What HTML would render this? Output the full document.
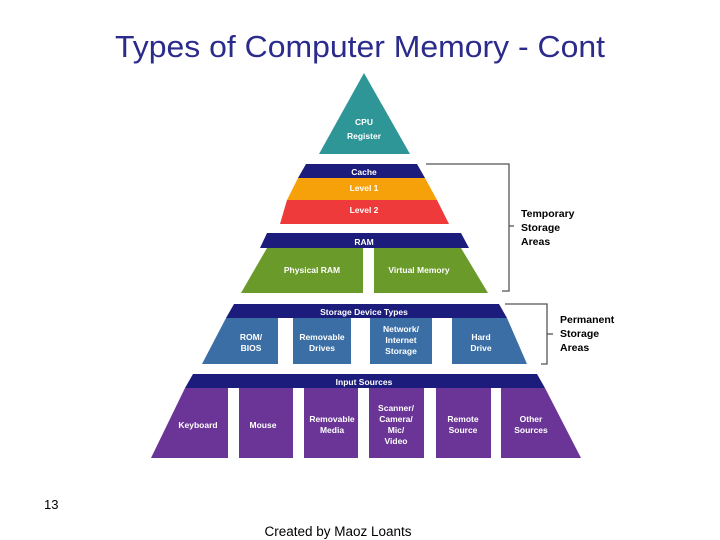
<!DOCTYPE html>
<html><head><style>
body{margin:0;width:720px;height:540px;background:#fff;overflow:hidden}
svg{display:block}
.t{font-family:"Liberation Sans",sans-serif;font-weight:bold;fill:#fff;font-size:8.5px;text-anchor:middle}
.k{font-family:"Liberation Sans",sans-serif;font-weight:bold;fill:#000;font-size:10.5px}
</style></head><body>
<svg width="720" height="540" viewBox="0 0 720 540">
<defs>
<clipPath id="c1"><polygon points="267,248 461,248 488,293 241,293"/></clipPath>
<clipPath id="c2"><polygon points="226,318 507,318 527,364 202,364"/></clipPath>
<clipPath id="c3"><polygon points="185,388 545,388 581,458 151,458"/></clipPath>
</defs>
<text x="360" y="57" font-family="Liberation Sans,sans-serif" font-size="31" fill="#2b2b8c" text-anchor="middle" textLength="490" lengthAdjust="spacingAndGlyphs">Types of Computer Memory - Cont</text>
<polygon points="364,73 410,154 319,154" fill="#2e9696"/>
<text class="t" x="364" y="125" font-size="10.5">CPU</text>
<text class="t" x="364" y="139" font-size="10.5">Register</text>
<polygon points="306,164 417,164 425,178 298,178" fill="#1c1c7c"/>
<text class="t" x="364" y="175" font-size="10.5">Cache</text>
<polygon points="298,178 425,178 437,200 287,200" fill="#f7a10a"/>
<text class="t" x="364" y="191">Level 1</text>
<polygon points="287,200 437,200 449,224 280,224" fill="#ee3a3a"/>
<text class="t" x="364" y="213">Level 2</text>
<polygon points="267,233 461,233 469,248 260,248" fill="#1c1c7c"/>
<text class="t" x="364" y="245" font-size="10.5">RAM</text>
<g clip-path="url(#c1)" fill="#6a9a2a"><rect x="230" y="248" width="133" height="45"/><rect x="374" y="248" width="120" height="45"/></g>
<text class="t" x="312" y="273">Physical RAM</text>
<text class="t" x="419" y="273">Virtual Memory</text>
<polygon points="234,304 499,304 507,318 226,318" fill="#1c1c7c"/>
<text class="t" x="364" y="315" font-size="10.5">Storage Device Types</text>
<g clip-path="url(#c2)" fill="#3a6ea5"><rect x="200" y="318" width="78" height="46"/><rect x="293" y="318" width="58" height="46"/><rect x="370" y="318" width="62" height="46"/><rect x="452" y="318" width="80" height="46"/></g>
<text class="t" x="251" y="340">ROM/</text><text class="t" x="251" y="351">BIOS</text>
<text class="t" x="322" y="340">Removable</text><text class="t" x="322" y="351">Drives</text>
<text class="t" x="401" y="332">Network/</text><text class="t" x="401" y="343">Internet</text><text class="t" x="401" y="354">Storage</text>
<text class="t" x="481" y="340">Hard</text><text class="t" x="481" y="351">Drive</text>
<polygon points="193,374 537,374 545,388 185,388" fill="#1c1c7c"/>
<text class="t" x="364" y="385" font-size="10.5">Input Sources</text>
<g clip-path="url(#c3)" fill="#6a3596"><rect x="150" y="388" width="78" height="70"/><rect x="239" y="388" width="54" height="70"/><rect x="304" y="388" width="54" height="70"/><rect x="369" y="388" width="55" height="70"/><rect x="436" y="388" width="55" height="70"/><rect x="501" y="388" width="82" height="70"/></g>
<text class="t" x="198" y="428">Keyboard</text>
<text class="t" x="263" y="428">Mouse</text>
<text class="t" x="332" y="422">Removable</text><text class="t" x="332" y="433">Media</text>
<text class="t" x="396" y="411">Scanner/</text><text class="t" x="396" y="422">Camera/</text><text class="t" x="396" y="433">Mic/</text><text class="t" x="396" y="444">Video</text>
<text class="t" x="463" y="422">Remote</text><text class="t" x="463" y="433">Source</text>
<text class="t" x="531" y="422">Other</text><text class="t" x="531" y="433">Sources</text>
<polyline points="426,164 509,164 509,291 502,291" fill="none" stroke="#555" stroke-width="1.3"/>
<line x1="509" y1="226" x2="514" y2="226" stroke="#555" stroke-width="1.3"/>
<text class="k" x="521" y="217">Temporary</text><text class="k" x="521" y="231">Storage</text><text class="k" x="521" y="245">Areas</text>
<polyline points="505,304 547,304 547,364 541,364" fill="none" stroke="#555" stroke-width="1.3"/>
<line x1="547" y1="334" x2="553" y2="334" stroke="#555" stroke-width="1.3"/>
<text class="k" x="560" y="323">Permanent</text><text class="k" x="560" y="337">Storage</text><text class="k" x="560" y="351">Areas</text>
<text x="44" y="509" font-family="Liberation Sans,sans-serif" font-size="13" fill="#000">13</text>
<text x="338" y="536" font-family="Liberation Sans,sans-serif" font-size="13.5" fill="#000" text-anchor="middle">Created by Maoz Loants</text>
</svg>
</body></html>
